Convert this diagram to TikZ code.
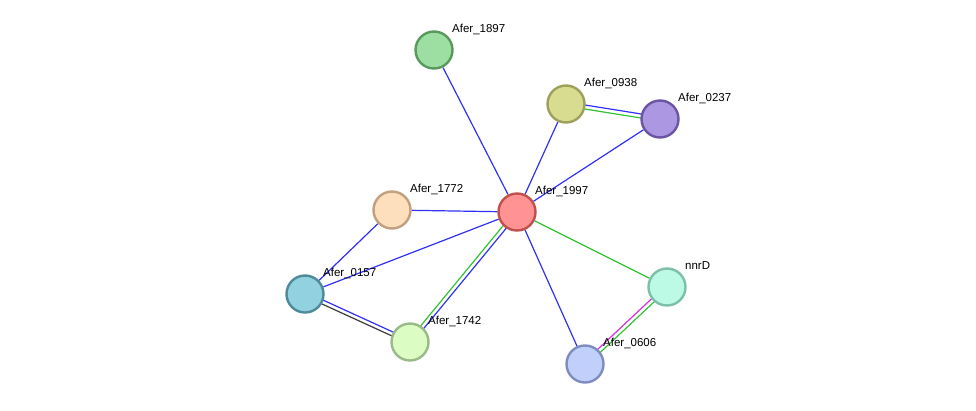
\documentclass[tikz,border=0pt]{standalone}
\usepackage{fontspec}
\setmainfont{Liberation Sans}
\usetikzlibrary{calc,backgrounds}
\definecolor{eblue}{HTML}{3030F8}
\definecolor{egreen}{HTML}{33C233}
\definecolor{emag}{HTML}{D830D8}
\definecolor{egray}{HTML}{3A3A3A}
\tikzset{
  prot/.style={circle, minimum size=37pt, inner sep=0pt, line width=2.4pt},
  lbl/.style={anchor=west, inner sep=0pt, font=\fontsize{11.5}{13}\selectfont},
  edge/.style={line width=1.2pt},
}
\newcommand{\pnode}[6]{%
  \definecolor{f#1}{HTML}{#4}\definecolor{b#1}{HTML}{#5}%
  \node[prot, fill=f#1, draw=b#1] (#1) at (#2,#3) {};
  \node[lbl] (l#1) at (#2+18,#3-21) {#6};
}
\newcommand{\dedge}[4]{%
  \draw[edge,#3] ($(#1)!2pt!90:(#2)$) -- ($(#2)!2pt!-90:(#1)$);
  \draw[edge,#4] ($(#1)!2pt!-90:(#2)$) -- ($(#2)!2pt!90:(#1)$);
}
\begin{document}
\begin{tikzpicture}[x=1pt,y=-1pt]
\useasboundingbox (0,0) rectangle (976,410);
\pnode{n1897}{434}{50}{9DDFA3}{5A995E}{Afer\_1897}
\pnode{n0938}{566}{104}{D8DC90}{9CA05A}{Afer\_0938}
\pnode{n0237}{660}{119}{AC98E2}{6B55A2}{Afer\_0237}
\pnode{n1772}{392}{210}{FDDEBD}{C0A07E}{Afer\_1772}
\pnode{n1997}{517}{212}{FF9292}{C05050}{Afer\_1997}
\pnode{n0157}{305}{294}{92D1E0}{4F8A9A}{Afer\_0157}
\pnode{n1742}{410}{342}{DBFCC2}{9AB98A}{Afer\_1742}
\pnode{nnnrD}{667}{287}{BCFAE6}{7DC0A8}{nnrD}
\pnode{n0606}{585}{364}{C0D0FB}{7E8DBE}{Afer\_0606}
\begin{scope}[on background layer]
\draw[edge,eblue] (n1897) -- (n1997);
\draw[edge,eblue] (n0938) -- (n1997);
\draw[edge,eblue] (n0237) -- (n1997);
\draw[edge,eblue] (n1772) -- (n1997);
\draw[edge,eblue] (n0157) -- (n1997);
\draw[edge,eblue] (n0157) -- (n1772);
\draw[edge,eblue] (n1997) -- (n0606);
\draw[edge,egreen] (n1997) -- (nnnrD);
\dedge{n0938}{n0237}{eblue}{egreen}
\dedge{n1997}{n1742}{eblue}{egreen}
\dedge{n0157}{n1742}{eblue}{egray}
\dedge{nnnrD}{n0606}{egreen}{emag}
\end{scope}
\end{tikzpicture}
\end{document}
